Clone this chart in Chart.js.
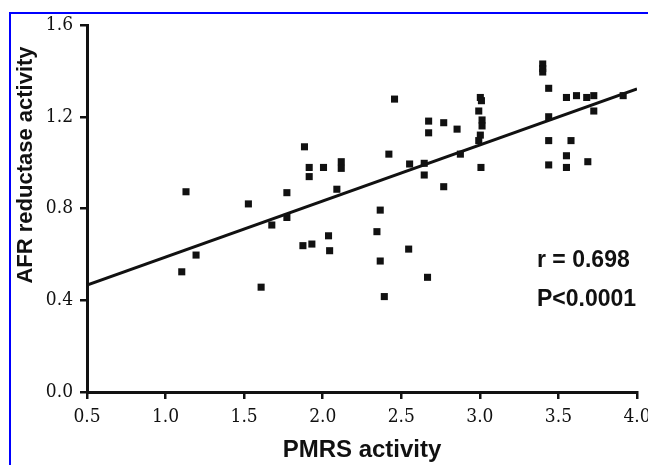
<!DOCTYPE html>
<html>
<head>
<meta charset="utf-8">
<script src="https://cdn.jsdelivr.net/npm/chart.js@4.4.0/dist/chart.umd.min.js"></script>
<style>
  html, body { margin: 0; padding: 0; background: #fff; overflow: hidden; }
  #wrap { position: relative; width: 660px; height: 465px; }
  #frame { position: absolute; left: 9px; top: 12px; width: 700px; height: 500px;
           border-top: 2px solid #0000ff; border-left: 2px solid #0000ff; }
  canvas { position: absolute; left: 0; top: 0; }
</style>
</head>
<body>
<div id="wrap">
  <div id="frame"></div>
  <canvas id="chart" width="660" height="465"></canvas>
</div>
<script>
  // Data
  const pmrs = [
    1.13, 1.527, 1.194, 1.103, 1.608, 2.457, 2.674, 2.77, 2.855, 2.674,
    1.884, 2.421, 1.914, 2.005, 2.118, 2.118, 1.914, 2.553, 2.646, 2.646,
    2.09, 2.77, 1.772, 2.366, 1.772, 1.676, 2.345, 2.037, 1.874, 1.931,
    2.044, 2.547, 2.366, 2.667, 2.392, 3.4, 3.4, 3.4, 3.438, 3.551,
    3.615, 3.68, 3.725, 3.912, 3.725, 3.438, 3.003, 3.01, 2.993, 3.014,
    3.014, 3.003, 2.993, 2.876, 3.438, 3.58, 3.551, 3.438, 3.551, 3.687,
    3.007
  ];
  const afr = [
    0.873, 0.82, 0.597, 0.524, 0.457, 1.277, 1.181, 1.174, 1.146, 1.13,
    1.069, 1.037, 0.979, 0.979, 1.004, 0.975, 0.939, 0.994, 0.997, 0.946,
    0.884, 0.895, 0.869, 0.793, 0.761, 0.728, 0.699, 0.681, 0.638, 0.645,
    0.616, 0.623, 0.571, 0.5, 0.416, 1.43, 1.41, 1.395, 1.324, 1.284,
    1.292, 1.284, 1.292, 1.292, 1.225, 1.2, 1.284, 1.27, 1.225, 1.186,
    1.16, 1.12, 1.096, 1.037, 1.096, 1.096, 1.03, 0.99, 0.979, 1.004,
    0.979
  ];
  // Regression line end points
  const fitX = [0.5, 4.0];
  const fitY = [0.466, 1.321];

  const xTicks = [0.5, 1.0, 1.5, 2.0, 2.5, 3.0, 3.5, 4.0];
  const yTicks = [0.0, 0.4, 0.8, 1.2, 1.6];

  const xTitle = 'PMRS activity';
  const yTitle = 'AFR reductase activity';
  const notes = ['r = 0.698', 'P<0.0001'];

  // "condensed" goes into the weight slot so the canvas font shorthand picks the narrow face
  const tickFont = { family: "'DejaVu Serif', serif", size: 19, weight: 'condensed' };
  const boldFont = "'Liberation Sans', Arial, sans-serif";

  // Draws the y title and the r / P note
  const textPlugin = {
    id: 'textPlugin',
    afterDraw(chart) {
      const ctx = chart.ctx;
      ctx.save();
      ctx.fillStyle = '#111';
      ctx.font = 'bold 22px ' + boldFont;
      ctx.textAlign = 'center';
      ctx.textBaseline = 'middle';
      ctx.translate(26, 165);
      ctx.rotate(-Math.PI / 2);
      ctx.fillText(yTitle, 0, 0);
      ctx.restore();

      ctx.save();
      ctx.fillStyle = '#111';
      ctx.font = 'bold 23px ' + boldFont;
      ctx.textAlign = 'left';
      ctx.textBaseline = 'middle';
      ctx.fillText(notes[0], 537, 261);
      ctx.fillText(notes[1], 537, 300);
      ctx.restore();
    }
  };

  new Chart(document.getElementById('chart'), {
    type: 'scatter',
    data: {
      datasets: [
        {
          label: 'samples',
          data: pmrs.map((x, i) => ({ x: x, y: afr[i] })),
          pointStyle: 'rect',
          pointRadius: 5,
          pointBorderWidth: 0,
          backgroundColor: '#111',
          borderColor: '#111'
        },
        {
          type: 'line',
          label: 'fit',
          data: fitX.map((x, i) => ({ x: x, y: fitY[i] })),
          borderColor: '#111',
          borderWidth: 3,
          pointRadius: 0,
          fill: false
        }
      ]
    },
    options: {
      responsive: false,
      animation: false,
      devicePixelRatio: 1,
      layout: { padding: { top: 25, right: 23, bottom: 0, left: 0 } },
      plugins: { legend: { display: false }, tooltip: { enabled: false } },
      scales: {
        x: {
          type: 'linear',
          min: 0.5,
          max: 4.0,
          afterFit: s => { s.height = 73; },
          afterBuildTicks: s => { s.ticks = xTicks.map(v => ({ value: v })); },
          border: { display: true, color: '#111', width: 3 },
          grid: { drawOnChartArea: false, drawTicks: true, tickLength: 7, lineWidth: 2.5, color: '#111' },
          ticks: { color: '#111', font: tickFont, padding: 7, maxRotation: 0, callback: v => v.toFixed(1) },
          title: { display: true, text: xTitle, color: '#111',
                   font: { family: boldFont, size: 24, weight: 'bold' }, padding: { top: 4, bottom: 0 } }
        },
        y: {
          type: 'linear',
          min: 0,
          max: 1.6,
          afterFit: s => { s.width = 87; },
          afterBuildTicks: s => { s.ticks = yTicks.map(v => ({ value: v })); },
          border: { display: true, color: '#111', width: 3 },
          grid: { drawOnChartArea: false, drawTicks: true, tickLength: 7, lineWidth: 2.5, color: '#111' },
          ticks: { color: '#111', font: tickFont, padding: 7, callback: v => v.toFixed(1) }
        }
      }
    },
    plugins: [textPlugin]
  });
</script>
</body>
</html>
